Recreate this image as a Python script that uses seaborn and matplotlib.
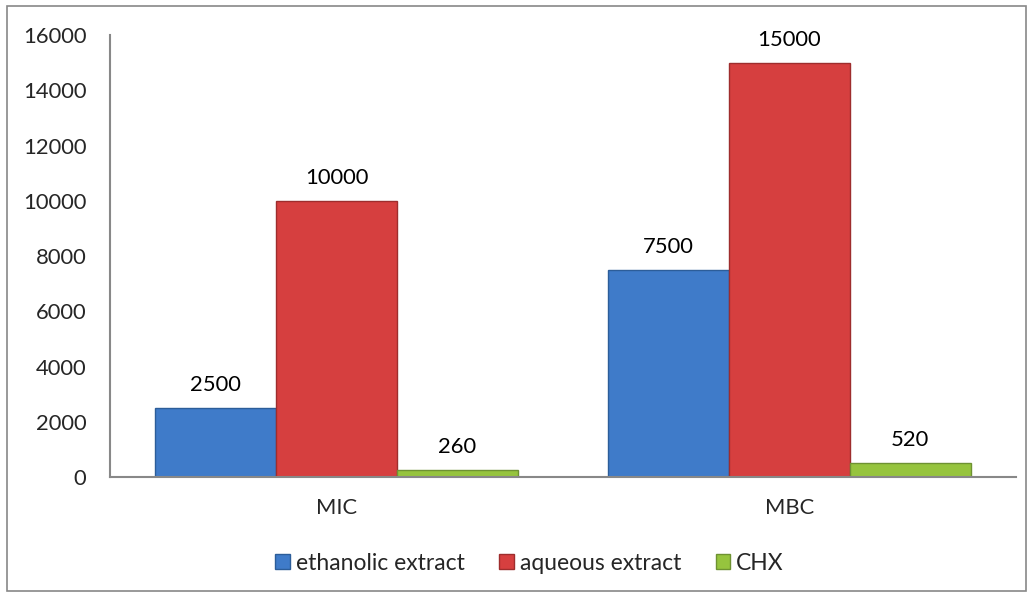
import numpy as np
import pandas as pd
import matplotlib
matplotlib.use('Agg')
import matplotlib.pyplot as plt
import seaborn as sns
from matplotlib.patches import Rectangle, Patch

categories = ['MIC', 'MBC']
series = ['ethanolic extract', 'aqueous extract', 'CHX']
ethanolic = [2500, 7500]
aqueous = [10000, 15000]
chx = [260, 520]
yticks = [0, 2000, 4000, 6000, 8000, 10000, 12000, 14000, 16000]

colors = ['#3f7bc9', '#d63f3f', '#96c43e']
edges = ['#2c5d99', '#9e2d2d', '#6e9232']

df = pd.DataFrame({
    'cat': categories * 3,
    'series': [s for s in series for _ in categories],
    'value': ethanolic + aqueous + chx,
})

sns.set_style('white')
plt.rcParams['font.family'] = ['Lato', 'DejaVu Sans']
fs = 15.8

fig = plt.figure(figsize=(10.33, 5.96), dpi=100)
ax = fig.add_axes([0.1065, 0.1997, 0.877, 0.7413])

sns.barplot(data=df, x='cat', y='value', hue='series', palette=colors,
            width=0.8, gap=0, saturation=1, ax=ax, legend=False)

for cont, ec in zip(ax.containers, edges):
    for bar in cont:
        bar.set_edgecolor(ec)
        bar.set_linewidth(1.0)
    ax.bar_label(cont, fmt='%d', padding=9, fontsize=fs, color='black')

ax.set_ylim(0, 16000)
ax.set_yticks(yticks)
ax.set_yticklabels([str(v) for v in yticks], fontsize=fs)
ax.tick_params(axis='x', labelsize=fs, pad=15, length=0)
ax.tick_params(axis='y', pad=17, length=0)
ax.set_xlabel('')
ax.set_ylabel('')
for s in ['top', 'right']:
    ax.spines[s].set_visible(False)
for s in ['left', 'bottom']:
    ax.spines[s].set_color('#888888')
    ax.spines[s].set_linewidth(1.5)

handles = [Patch(facecolor=c, edgecolor=e, label=l) for c, e, l in zip(colors, edges, series)]
fig.legend(handles=handles, loc='center', bbox_to_anchor=(0.5126, 0.055), ncol=3,
           frameon=False, fontsize=16.5, handlelength=0.65, handleheight=0.65,
           handletextpad=0.25, columnspacing=1.5)

fig.patches.append(Rectangle((0.007, 0.008), 0.986, 0.982, transform=fig.transFigure,
                             fill=False, edgecolor='#888888', linewidth=1.2))

fig.savefig('out.png', dpi=100)
